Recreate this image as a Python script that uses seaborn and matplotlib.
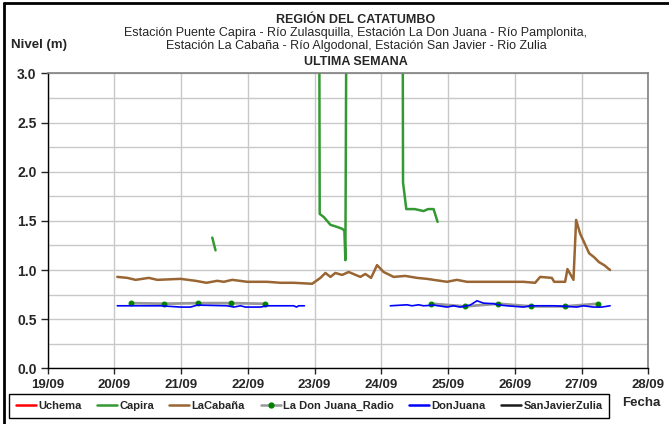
import seaborn as sns
import matplotlib.pyplot as plt
import matplotlib.dates as mdates
from matplotlib.lines import Line2D
from matplotlib.ticker import MultipleLocator
import pandas as pd

# tiempos en dias desde el 19/09 00:00
inicio = pd.Timestamp("2019-09-19")

capira_dias = [2.466, 2.515,
               4.070, 4.076, 4.137, 4.237, 4.330, 4.412, 4.446, 4.461, 4.476,
               5.320, 5.325, 5.374, 5.500, 5.633, 5.700, 5.783, 5.843]
capira_nivel = [1.33, 1.20,
                3.60, 1.57, 1.54, 1.46, 1.44, 1.42, 1.40, 1.10, 3.60,
                3.60, 1.89, 1.62, 1.62, 1.60, 1.62, 1.62, 1.49]
capira_tramo = [1, 1,
                2, 2, 2, 2, 2, 2, 2, 2, 2,
                2, 2, 2, 2, 2, 2, 2, 2]

cabana_dias = [1.043, 1.193, 1.317, 1.516, 1.642, 1.991, 2.216, 2.380, 2.540, 2.639,
               2.765, 2.990, 3.289, 3.488, 3.687, 3.963, 4.087, 4.162, 4.237, 4.311,
               4.412, 4.510, 4.686, 4.760, 4.846, 4.936, 5.034, 5.184, 5.359, 5.534,
               5.684, 5.984, 6.133, 6.283, 6.732, 7.130, 7.305, 7.380, 7.555, 7.590,
               7.754, 7.789, 7.879, 7.919, 7.979, 8.054, 8.114, 8.189, 8.263, 8.338,
               8.428]
cabana_nivel = [0.93, 0.92, 0.90, 0.92, 0.90, 0.91, 0.89, 0.87, 0.89, 0.88,
                0.90, 0.88, 0.88, 0.87, 0.87, 0.86, 0.92, 0.97, 0.93, 0.97,
                0.95, 0.98, 0.93, 0.96, 0.92, 1.05, 0.98, 0.93, 0.94, 0.92,
                0.91, 0.88, 0.90, 0.88, 0.88, 0.88, 0.87, 0.93, 0.92, 0.88,
                0.88, 1.01, 0.90, 1.51, 1.37, 1.26, 1.17, 1.13, 1.08, 1.05,
                1.00]

radio_dias = [1.25, 1.75, 2.25, 2.75, 3.25, 5.75, 6.25, 6.75, 7.25, 7.75, 8.25]
radio_nivel = [0.663, 0.657, 0.663, 0.663, 0.657, 0.657, 0.630, 0.657, 0.630, 0.630, 0.657]
radio_tramo = [1, 1, 1, 1, 1, 2, 2, 2, 2, 2, 2]

donjuana_dias = [1.043, 1.692, 1.991, 2.141, 2.241, 2.690, 2.789, 2.889, 2.964, 3.189,
                 3.289, 3.687, 3.728, 3.762, 3.847,
                 5.135, 5.385, 5.460, 5.558, 5.633, 5.783, 5.984, 6.082, 6.183, 6.332,
                 6.433, 6.531, 6.681, 6.781, 6.882, 7.130, 7.231, 7.579, 7.780, 7.930,
                 8.028, 8.178, 8.304, 8.428]
donjuana_nivel = [0.636, 0.636, 0.623, 0.623, 0.643, 0.636, 0.623, 0.636, 0.623, 0.623,
                  0.636, 0.636, 0.623, 0.636, 0.636,
                  0.636, 0.646, 0.636, 0.646, 0.636, 0.643, 0.623, 0.636, 0.623, 0.643,
                  0.687, 0.663, 0.657, 0.643, 0.636, 0.623, 0.636, 0.636, 0.630, 0.623,
                  0.636, 0.623, 0.623, 0.636]
donjuana_tramo = [1] * 15 + [2] * 24

series = ["Uchema", "Capira", "LaCabaña", "La Don Juana_Radio", "DonJuana", "SanJavierZulia"]
colores = ["#ff0000", "#339933", "#996633", "#999999", "#0000ff", "#1a1a1a"]


def tabla(dias, nivel, tramo=None):
    df = pd.DataFrame({"dias": dias, "nivel": nivel})
    df["fecha"] = inicio + pd.to_timedelta(df["dias"], unit="D")
    df["tramo"] = tramo if tramo is not None else 1
    return df


sns.set_style("white")
plt.rcParams["font.family"] = ["Liberation Sans", "DejaVu Sans"]

fig = plt.figure(figsize=(6.69, 4.24), dpi=100)
ax = fig.add_axes([0.0713, 0.1314, 0.8977, 0.6953])

sns.lineplot(data=tabla(capira_dias, capira_nivel, capira_tramo), x="fecha", y="nivel",
             units="tramo", estimator=None, color=colores[1], lw=1.8, ax=ax)
sns.lineplot(data=tabla(cabana_dias, cabana_nivel), x="fecha", y="nivel",
             units="tramo", estimator=None, color=colores[2], lw=1.8, ax=ax)
sns.lineplot(data=tabla(radio_dias, radio_nivel, radio_tramo), x="fecha", y="nivel",
             units="tramo", estimator=None, color=colores[3], lw=2.0,
             marker="o", markersize=3.5, markerfacecolor="#008000", markeredgecolor="#008000", ax=ax)
sns.lineplot(data=tabla(donjuana_dias, donjuana_nivel, donjuana_tramo), x="fecha", y="nivel",
             units="tramo", estimator=None, color=colores[4], lw=1.2, ax=ax)

ax.set_xlim(inicio, inicio + pd.Timedelta(days=9))
ax.set_ylim(0, 3.0)
ax.xaxis.set_major_locator(mdates.DayLocator())
ax.xaxis.set_major_formatter(mdates.DateFormatter("%d/%m"))
ax.yaxis.set_major_locator(MultipleLocator(0.5))
ax.yaxis.set_minor_locator(MultipleLocator(0.25))
ax.yaxis.set_major_formatter(plt.FormatStrFormatter("%.1f"))
ax.grid(True, which="both", color="#c8c8c8", lw=1.0)
ax.set_xlabel("")
ax.set_ylabel("")

for lado in ["left", "bottom"]:
    ax.spines[lado].set_color("black")
    ax.spines[lado].set_linewidth(1.0)
for lado in ["top", "right"]:
    ax.spines[lado].set_color("#808080")
    ax.spines[lado].set_linewidth(1.2)

ax.tick_params(axis="x", which="major", direction="out", length=4, width=1, pad=4,
               bottom=True, labelsize=9.5)
ax.tick_params(axis="y", which="major", direction="out", length=5, width=1, pad=3,
               left=True, labelsize=10)
ax.tick_params(axis="y", which="minor", length=0)
for lab in ax.get_xticklabels() + ax.get_yticklabels():
    lab.set_fontweight("bold")

# titulos
xc = 0.532
fig.text(xc, 0.953, "REGIÓN DEL CATATUMBO", ha="center", va="center",
         fontsize=9, fontweight="bold")
fig.text(xc, 0.906, "Estación Puente Capira - Río Zulasquilla, Estación La Don Juana - Río Pamplonita,\n"
         "Estación La Cabaña - Río Algodonal, Estación San Javier - Rio Zulia",
         ha="center", va="center", fontsize=9, linespacing=1.1)
fig.text(xc, 0.854, "ULTIMA SEMANA", ha="center", va="center", fontsize=9, fontweight="bold")
fig.text(0.016, 0.894, "Nivel (m)", ha="left", va="center", fontsize=9.5, fontweight="bold")
fig.text(0.958, 0.05, "Fecha", ha="center", va="center", fontsize=9.5, fontweight="bold")

# leyenda
handles = []
for nombre, c in zip(series, colores):
    if nombre == "La Don Juana_Radio":
        handles.append(Line2D([], [], color=c, lw=1.8, marker="o", markersize=3.5,
                              markerfacecolor="#008000", markeredgecolor="#008000"))
    else:
        handles.append(Line2D([], [], color=c, lw=1.8))
fig.legend(handles, series, loc="center", bbox_to_anchor=(0.462, 0.042), ncol=6,
           frameon=True, fancybox=False, edgecolor="black", framealpha=1,
           prop={"size": 8, "weight": "bold"}, handlelength=1.8, handletextpad=0.2,
           columnspacing=1.4, borderpad=0.6)

# marco exterior (izquierda y arriba)
fig.add_artist(Line2D([0.006, 0.006], [0, 0.993], transform=fig.transFigure, color="black", lw=2))
fig.add_artist(Line2D([0.006, 1], [0.993, 0.993], transform=fig.transFigure, color="black", lw=2))

fig.savefig("out.png", dpi=100)
